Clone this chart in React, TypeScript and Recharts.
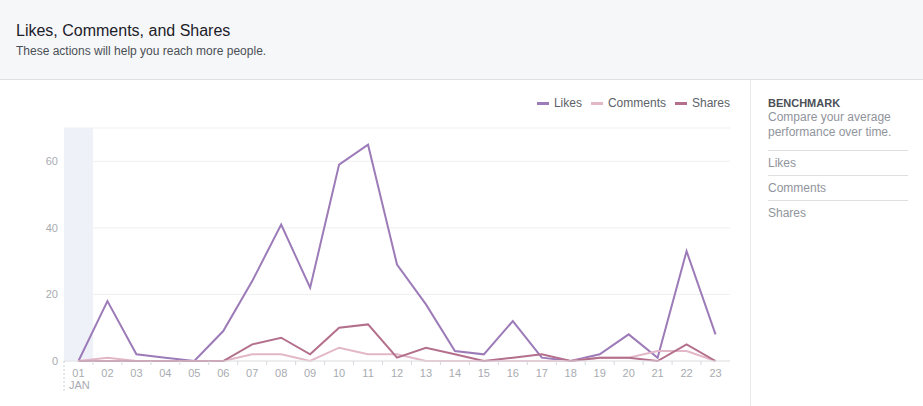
import React from 'react'
import {
  LineChart,
  Line,
  XAxis,
  YAxis,
  CartesianGrid,
  Legend,
  ReferenceArea,
} from 'recharts'

const days = ['01', '02', '03', '04', '05', '06', '07', '08', '09', '10', '11', '12', '13', '14', '15', '16', '17', '18', '19', '20', '21', '22', '23']
const likes = [0, 18, 2, 1, 0, 9, 24, 41, 22, 59, 65, 29, 17, 3, 2, 12, 1, 0, 2, 8, 1, 33, 8]
const comments = [0, 1, 0, 0, 0, 0, 2, 2, 0, 4, 2, 2, 0, 0, 0, 0, 0, 0, 1, 1, 3, 3, 0]
const shares = [0, 0, 0, 0, 0, 0, 5, 7, 2, 10, 11, 1, 4, 2, 0, 1, 2, 0, 1, 1, 0, 5, 0]
const yTicks = [0, 20, 40, 60]
const benchmarkItems = ['Likes', 'Comments', 'Shares']

const series = [
  { key: 'likes', name: 'Likes', color: '#9c7bb8' },
  { key: 'comments', name: 'Comments', color: '#e2b7c8' },
  { key: 'shares', name: 'Shares', color: '#b36f8b' },
]

const data = days.map((day, i) => ({
  day,
  likes: likes[i],
  comments: comments[i],
  shares: shares[i],
}))

const FONT = '"Liberation Sans", Arial, Helvetica, sans-serif'
const CHART_W = 750
const CHART_H = 326
const MARGIN = { top: 34, right: 20, left: 0, bottom: 0 }
const Y_W = 64
const BAND = (CHART_W - MARGIN.left - MARGIN.right - Y_W) / days.length

// eslint-disable-next-line @typescript-eslint/no-explicit-any
function DayTick({ x, y, payload, index }: any) {
  const last = index === days.length - 1
  return (
    <g>
      {index === 0 && (
        <line
          x1={x - BAND / 2}
          x2={x - BAND / 2}
          y1={y}
          y2={y + 32}
          stroke="#c9ccd1"
          strokeDasharray="2 2"
        />
      )}
      {!last && (
        <line x1={x + BAND / 2} x2={x + BAND / 2} y1={y} y2={y + 4} stroke="#d6d8db" />
      )}
      <text x={x} y={y + 16} textAnchor="middle" fontSize={11} fill="#a8abb1" fontFamily={FONT}>
        {payload.value}
      </text>
      {index === 0 && (
        <text x={x - BAND / 2 + 5} y={y + 28} fontSize={11} fill="#a8abb1" fontFamily={FONT}>
          JAN
        </text>
      )}
    </g>
  )
}

function LegendContent() {
  return (
    <div style={{ display: 'flex', justifyContent: 'flex-end', fontFamily: FONT, fontSize: 12, color: '#5d6168' }}>
      {series.map((s) => (
        <div key={s.key} style={{ display: 'flex', alignItems: 'center', marginLeft: 9 }}>
          <span style={{ display: 'inline-block', width: 12, height: 3, background: s.color, marginRight: 5 }} />
          <span>{s.name}</span>
        </div>
      ))}
    </div>
  )
}

export default function App() {
  return (
    <div
      style={{
        position: 'absolute',
        left: 0,
        top: 0,
        width: 923,
        height: 406,
        background: '#fff',
        fontFamily: FONT,
        overflow: 'hidden',
      }}
    >
      <div
        style={{
          height: 79,
          background: '#f6f7f9',
          borderBottom: '1px solid #dddfe2',
          boxSizing: 'content-box',
        }}
      >
        <div style={{ position: 'absolute', left: 16, top: 22, fontSize: 16, color: '#1d2129' }}>
          Likes, Comments, and Shares
        </div>
        <div style={{ position: 'absolute', left: 16, top: 44, fontSize: 12, color: '#4b4f56' }}>
          These actions will help you reach more people.
        </div>
      </div>

      <div style={{ position: 'absolute', left: 0, top: 80 }}>
        <LineChart width={CHART_W} height={CHART_H} data={data} margin={MARGIN}>
          <CartesianGrid vertical={false} stroke="#eeeff1" />
          <ReferenceArea x1="01" x2="01" y1={0} y2={70} fill="#eef1f7" fillOpacity={1} stroke="none" />
          <XAxis
            dataKey="day"
            scale="band"
            interval={0}
            height={45}
            tickLine={false}
            tickSize={0}
            tickMargin={0}
            axisLine={{ stroke: '#e3e4e6' }}
            tick={<DayTick />}
          />
          <YAxis
            width={Y_W}
            domain={[0, 70]}
            ticks={yTicks}
            axisLine={false}
            tickLine={false}
            tickSize={4}
            tickMargin={2}
            tick={{ fontSize: 11, fill: '#a8abb1', fontFamily: FONT }}
          />
          <Legend
            verticalAlign="top"
            align="right"
            content={<LegendContent />}
            wrapperStyle={{ top: 16, right: 20, left: 'auto', width: 400 }}
          />
          {series.map((s) => (
            <Line
              key={s.key}
              type="linear"
              dataKey={s.key}
              name={s.name}
              stroke={s.color}
              strokeWidth={2}
              dot={false}
              activeDot={false}
              isAnimationActive={false}
            />
          ))}
        </LineChart>
      </div>

      <div
        style={{
          position: 'absolute',
          left: 750,
          top: 80,
          width: 173,
          height: 326,
          borderLeft: '1px solid #e9ebee',
          boxSizing: 'border-box',
          paddingLeft: 17,
          paddingTop: 16,
        }}
      >
        <div style={{ fontSize: 11, fontWeight: 'bold', color: '#4b4f56', lineHeight: '14px' }}>BENCHMARK</div>
        <div style={{ fontSize: 12, color: '#90949c', lineHeight: '15px', width: 140, marginBottom: 10 }}>
          Compare your average performance over time.
        </div>
        {benchmarkItems.map((item) => (
          <div
            key={item}
            style={{
              width: 140,
              borderTop: '1px solid #dddfe2',
              height: 24,
              lineHeight: '24px',
              fontSize: 12,
              color: '#90949c',
            }}
          >
            {item}
          </div>
        ))}
      </div>
    </div>
  )
}
